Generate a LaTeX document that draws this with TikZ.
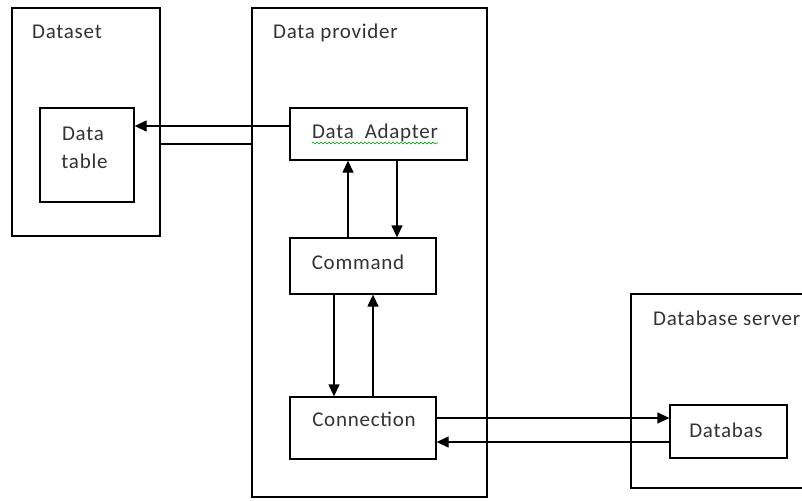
\documentclass[tikz,border=0pt]{standalone}
\usepackage{fontspec}
\setmainfont{Carlito}[LetterSpace=3.5]
\usetikzlibrary{arrows.meta,decorations.pathmorphing}
\begin{document}
\begin{tikzpicture}[x=1pt,y=-1pt,
  box/.style={draw=black,line width=1.3pt,rectangle,inner sep=0pt},
  lbl/.style={font=\fontsize{21}{25}\selectfont,text=black!80,inner sep=0pt,anchor=base west},
  arr/.style={line width=1.3pt,-{Triangle[length=12pt,width=11pt]}},
  ln/.style={line width=1.3pt},
  wavy/.style={green!60!black,line width=0.6pt,decorate,decoration={snake,amplitude=1pt,segment length=4pt}}]
\useasboundingbox[fill=white] (0,0) rectangle (802,500);
% containers
\node[box,minimum width=148pt,minimum height=228pt] (dataset) at (86,122) {};
\node[box,minimum width=94pt,minimum height=94pt] (table) at (87,155) {};
\node[box,minimum width=235pt,minimum height=489pt] (provider) at (369.5,252.5) {};
\node[box,minimum width=177pt,minimum height=52pt] (adapter) at (378.5,134) {};
\node[box,minimum width=146pt,minimum height=56pt] (cmd) at (363,266) {};
\node[box,minimum width=146pt,minimum height=62pt] (conn) at (363,428) {};
\node[box,minimum width=189pt,minimum height=194pt] (server) at (725.5,391) {};
\node[box,minimum width=117pt,minimum height=53pt] (db) at (728.5,431.5) {};
% labels
\node[lbl] (tDataset) at (32,39) {Dataset};
\node[lbl] (tProvider) at (273,39) {Data provider};
\node[lbl] (tServer) at (653,325) {Database server};
\node[lbl,anchor=base] (tData) at (83,140) {Data};
\node[lbl,anchor=base] (tTable) at (84.5,168) {table};
\node[lbl,anchor=base] (tAdapter) at (375,139) {Data\ \ Adapter};
\node[lbl,anchor=base] (tCmd) at (358,269) {Command};
\node[lbl,anchor=base] (tConn) at (364,426) {Connection};
\node[lbl,anchor=base] (tDb) at (726,437) {Databas};
\draw[wavy] (tAdapter.base west) ++(0,4) coordinate (w1) -- (tAdapter.base east |- w1);
% connectors
\draw[arr] (adapter.west |- 0,126) -- (table.east |- 0,126);
\draw[ln] (dataset.east |- 0,144) -- (provider.west |- 0,144);
\draw[arr] (cmd.north -| 348,0) -- (adapter.south -| 348,0);
\draw[arr] (adapter.south -| 397,0) -- (cmd.north -| 397,0);
\draw[arr] (cmd.south -| 334,0) -- (conn.north -| 334,0);
\draw[arr] (conn.north -| 373,0) -- (cmd.south -| 373,0);
\draw[arr] (conn.east |- 0,418) -- (db.west |- 0,418);
\draw[arr] (db.west |- 0,442) -- (conn.east |- 0,442);
\end{tikzpicture}
\end{document}
